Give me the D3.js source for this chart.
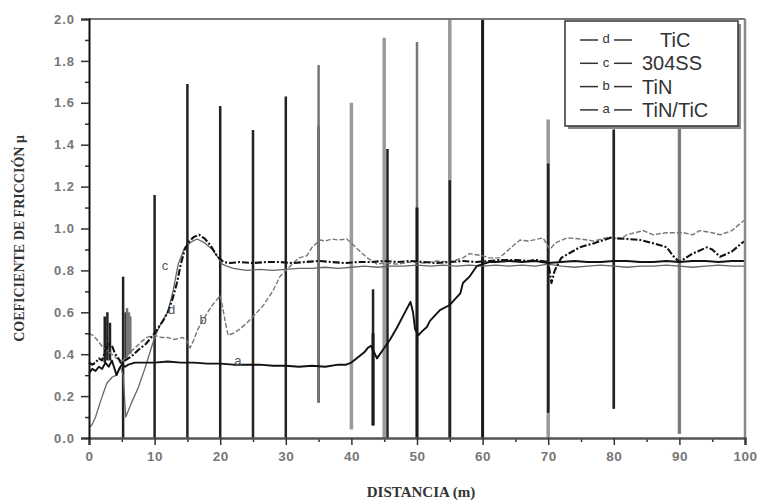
<!DOCTYPE html>
<html>
<head>
<meta charset="utf-8">
<script src="https://cdn.jsdelivr.net/npm/d3@7"></script>
<style>
  html, body { margin: 0; padding: 0; background: #fff; }
  svg { display: block; }
</style>
</head>
<body>
<svg id="chart" width="757" height="502"></svg>
<script>
// ---- data ----
const seriesNames = { d: "TiC", c: "304SS", b: "TiN", a: "TiN/TiC" };
const legendOrder = ["d", "c", "b", "a"];

const aX = [0,0.5,1,1.5,2,2.5,3,3.5,4,4.2,4.6,5,5.5,6,7,8,9,10,12,14,16,18,20,22,24,26,28,30,32,34,36,38,39.2,40,41.2,42,42.5,43,43.3,43.9,45,45.9,47,48,48.5,49,49.4,49.7,50.2,50.8,51.5,52,53.5,55,56.6,57,58,59.1,60,61,62,64,66,68,70,72,74,76,78,80,82,84,86,88,90,92,94,96,98,100];
const aY = [0.31,0.33,0.32,0.34,0.33,0.36,0.34,0.37,0.32,0.3,0.33,0.35,0.34,0.35,0.36,0.36,0.36,0.36,0.365,0.36,0.36,0.355,0.355,0.35,0.35,0.35,0.345,0.345,0.34,0.345,0.34,0.35,0.35,0.36,0.39,0.41,0.43,0.44,0.42,0.38,0.43,0.47,0.53,0.59,0.62,0.65,0.6,0.52,0.49,0.51,0.53,0.56,0.61,0.635,0.69,0.74,0.77,0.82,0.83,0.84,0.84,0.845,0.84,0.845,0.835,0.84,0.845,0.84,0.84,0.845,0.845,0.84,0.84,0.845,0.84,0.845,0.845,0.84,0.845,0.845];

const bX = [0,0.6,1.2,2.2,3,3.5,4.2,5,5.2,6,7,8,8.8,10,11,12,13,14.3,15,15.4,16,16.6,17.5,18.7,19.5,20,20.4,20.8,21.2,22,23,24.1,25,26.5,28,29.1,30,31,32,33.2,34,35.2,36,37,38,39.3,40,41,42.4,43.9,45,47,49,51,53,55,57,58,60,61,62.6,64,65.7,67,69.2,70.3,71,72.9,75,77,79.4,81,82,84.5,86,88,90.6,92,93.1,95,96.2,98,99.5,100];
const bY = [0.5,0.49,0.47,0.43,0.41,0.4,0.38,0.37,0.37,0.4,0.43,0.46,0.48,0.49,0.48,0.48,0.47,0.48,0.46,0.43,0.47,0.52,0.57,0.63,0.66,0.68,0.62,0.55,0.49,0.5,0.52,0.55,0.58,0.63,0.7,0.77,0.8,0.83,0.86,0.87,0.91,0.945,0.94,0.95,0.945,0.95,0.93,0.9,0.86,0.83,0.835,0.83,0.84,0.835,0.845,0.84,0.86,0.88,0.87,0.86,0.86,0.9,0.945,0.94,0.955,0.9,0.93,0.955,0.95,0.94,0.96,0.95,0.97,0.99,0.97,0.98,0.98,0.97,0.99,0.98,0.97,0.99,1.03,1.04];

const cX = [0,0.4,1,1.7,2.7,3.5,4.2,4.8,5.2,5.6,6.5,7.5,8.5,10,11,12,12.8,13.6,14.6,15.8,16.5,17.7,18.8,19.7,20.3,21,22,24,26,28,30,32,34,36,38,40,42,44,46,48,50,52,54,56,58,60,62,64,66,68,70,72,74,76,78,80,82,84,86,88,90,92,94,96,98,100];
const cY = [0.05,0.06,0.1,0.17,0.26,0.29,0.3,0.34,0.3,0.1,0.17,0.24,0.33,0.48,0.55,0.6,0.7,0.83,0.91,0.94,0.95,0.93,0.9,0.86,0.83,0.82,0.81,0.8,0.805,0.8,0.805,0.81,0.81,0.815,0.81,0.815,0.82,0.815,0.82,0.82,0.825,0.82,0.825,0.82,0.825,0.82,0.825,0.82,0.825,0.82,0.83,0.82,0.815,0.82,0.825,0.82,0.815,0.82,0.82,0.825,0.82,0.815,0.82,0.825,0.82,0.82];

const dX = [0,0.5,1,1.5,2,2.5,3,3.5,4,4.5,5,5.5,6,6.5,7.5,8.7,10,11.3,12,12.7,13.4,14,14.6,15.3,16,16.8,17.7,18.5,19.5,20.5,21.5,23,25,27,29,31,33,35,37,39,41,43,45,47,49,51,53,55,57,59,61,63,65,67,68,70,70.5,71,72,74.8,77,79.4,82,84,86,88.1,89,90,91,92,94.2,95,96.2,98,99.5,100];
const dY = [0.36,0.35,0.36,0.38,0.37,0.42,0.45,0.44,0.4,0.38,0.35,0.37,0.38,0.39,0.42,0.45,0.5,0.56,0.6,0.66,0.74,0.83,0.9,0.94,0.96,0.97,0.95,0.92,0.87,0.84,0.835,0.84,0.835,0.84,0.84,0.835,0.84,0.845,0.84,0.835,0.84,0.84,0.845,0.84,0.845,0.84,0.835,0.84,0.845,0.84,0.845,0.85,0.85,0.845,0.85,0.84,0.74,0.8,0.86,0.91,0.93,0.955,0.95,0.945,0.93,0.91,0.87,0.84,0.86,0.88,0.91,0.9,0.865,0.89,0.93,0.94];

// friction spikes at the stops: series, distance, low, high
const spikeSeries = ["d","d","d","d","d","c","c","c","d","d","d","d","d","d","c","d","b","a","b","d","c","a","b","d","a","b","d","c","d","b","c"];
const spikeX  = [2.4,2.8,3.2,5.2,5.6,5.8,6.1,6.3,10,15,20,25,30,35,35,43.3,40,43.3,45,45.5,50,50,55,55,60,70,70,80,80,90,90];
const spikeLo = [0.36,0.37,0.37,0,0.38,0.38,0.4,0.4,0,0,0,0,0,0.17,0.17,0.06,0.04,0.06,0,0,0,0,0,0,0,0,0.12,0.14,0.14,0.02,0.02];
const spikeHi = [0.58,0.6,0.55,0.77,0.6,0.62,0.6,0.58,1.16,1.69,1.585,1.47,1.63,1.49,1.78,0.71,1.6,0.5,1.91,1.38,1.89,1.1,2.0,1.23,2.0,1.52,1.31,1.7,1.47,1.7,1.5];

const yTicks = [0,0.2,0.4,0.6,0.8,1.0,1.2,1.4,1.6,1.8,2.0];
const yMinor = [0.1,0.3,0.5,0.7,0.9,1.1,1.3,1.5,1.7,1.9];
const xTicks = [0,10,20,30,40,50,60,70,80,90,100];
const xMinor = [5,15,25,35,45,55,65,75,85,95];

// ---- chart ----
const svg = d3.select("#chart");
const x = d3.scaleLinear().domain([0, 100]).range([89, 745]);
const y = d3.scaleLinear().domain([0, 2]).range([438, 19]);

const style = {
  a: { stroke: "#111", width: 1.9, dash: null },
  b: { stroke: "#777", width: 1.4, dash: "5,2" },
  c: { stroke: "#666", width: 1.3, dash: null },
  d: { stroke: "#111", width: 2.1, dash: "7,2,2,2" }
};
const spikeStyle = {
  a: { stroke: "#1a1a1a", width: 3 },
  b: { stroke: "#9a9a9a", width: 3.5 },
  c: { stroke: "#777", width: 2.5 },
  d: { stroke: "#222", width: 2.5 }
};

const plot = svg.append("g");

// spikes
plot.selectAll("line.spike")
  .data(spikeX.map((v, i) => ({ x: v, lo: spikeLo[i], hi: spikeHi[i], s: spikeSeries[i] })))
  .join("line")
  .attr("class", "spike")
  .attr("x1", d => x(d.x)).attr("x2", d => x(d.x))
  .attr("y1", d => y(d.lo)).attr("y2", d => y(d.hi))
  .attr("stroke", d => spikeStyle[d.s].stroke)
  .attr("stroke-width", d => spikeStyle[d.s].width);

// curves
const seriesData = {
  a: aX.map((v, i) => [v, aY[i]]),
  b: bX.map((v, i) => [v, bY[i]]),
  c: cX.map((v, i) => [v, cY[i]]),
  d: dX.map((v, i) => [v, dY[i]])
};
const line = d3.line().x(d => x(d[0])).y(d => y(d[1]));
["c", "b", "a", "d"].forEach(k => {
  plot.append("path")
    .attr("d", line(seriesData[k]))
    .attr("fill", "none")
    .attr("stroke", style[k].stroke)
    .attr("stroke-width", style[k].width)
    .attr("stroke-dasharray", style[k].dash)
    .attr("stroke-linejoin", "round");
});

// curve letters
const letterPos = { c: [11.6, 0.82], d: [12.6, 0.61], b: [17.4, 0.56], a: [22.7, 0.365] };
Object.entries(letterPos).forEach(([k, p]) => {
  plot.append("text")
    .attr("x", x(p[0])).attr("y", y(p[1]))
    .attr("text-anchor", "middle").attr("dominant-baseline", "middle")
    .style("font-family", "Arial, Liberation Sans, sans-serif")
    .style("font-size", "13px").style("fill", "#555")
    .text(k);
});

// frame
svg.append("line").attr("x1", x(0)).attr("x2", x(100)).attr("y1", y(2)).attr("y2", y(2))
  .attr("stroke", "#777").attr("stroke-width", 2);
svg.append("line").attr("x1", x(100)).attr("x2", x(100)).attr("y1", y(2)).attr("y2", y(0))
  .attr("stroke", "#888").attr("stroke-width", 2.5);

// axes
const fontAx = "Arial, Liberation Sans, sans-serif";
svg.append("g").attr("transform", `translate(0,${y(0)})`)
  .call(d3.axisBottom(x).tickValues(xMinor).tickSize(4).tickFormat(""))
  .call(ax => { ax.select(".domain").remove(); ax.selectAll(".tick line").attr("stroke", "#333").attr("stroke-width", 1.5); });
svg.append("g").attr("transform", `translate(0,${y(0)})`)
  .call(d3.axisBottom(x).tickValues(xTicks).tickSize(7).tickPadding(6).tickFormat(d3.format("d")))
  .call(ax => {
    ax.select(".domain").attr("stroke", "#555").attr("stroke-width", 2.5);
    ax.selectAll(".tick line").attr("stroke", "#333").attr("stroke-width", 1.5);
    ax.selectAll(".tick text").style("fill", "#777").style("font-size", "13.5px").style("font-weight", "bold")
      .style("font-family", fontAx).style("letter-spacing", "0.5px");
  });

svg.append("g").attr("transform", `translate(${x(0)},0)`)
  .call(d3.axisLeft(y).tickValues(yMinor).tickSize(4).tickFormat(""))
  .call(ax => { ax.select(".domain").remove(); ax.selectAll(".tick line").attr("stroke", "#333").attr("stroke-width", 1.5); });
svg.append("g").attr("transform", `translate(${x(0)},0)`)
  .call(d3.axisLeft(y).tickValues(yTicks).tickSize(8).tickPadding(6).tickFormat(d3.format(".1f")))
  .call(ax => {
    ax.select(".domain").attr("stroke", "#111").attr("stroke-width", 2);
    ax.selectAll(".tick line").attr("stroke", "#333").attr("stroke-width", 1.5);
    ax.selectAll(".tick text").style("fill", "#777").style("font-size", "13px").style("font-weight", "bold")
      .style("font-family", fontAx).style("letter-spacing", "1px");
  });

// axis titles
svg.append("text")
  .attr("transform", `translate(24,${(y(0) + y(2)) / 2 + 10}) rotate(-90)`)
  .attr("text-anchor", "middle")
  .style("font-family", "Liberation Serif, Times New Roman, serif")
  .style("font-size", "14px").style("font-weight", "bold").style("fill", "#333")
  .text("COEFICIENTE DE FRICCIÓN μ");

svg.append("text")
  .attr("x", 421).attr("y", 497)
  .attr("text-anchor", "middle")
  .style("font-family", "Liberation Serif, Times New Roman, serif")
  .style("font-size", "15px").style("font-weight", "bold").style("fill", "#333")
  .text("DISTANCIA (m)");

// legend
const lg = svg.append("g");
lg.append("rect").attr("x", 568).attr("y", 24).attr("width", 173).attr("height", 105).attr("fill", "#888");
lg.append("rect").attr("x", 565).attr("y", 21).attr("width", 173).attr("height", 105)
  .attr("fill", "#fff").attr("stroke", "#333").attr("stroke-width", 1.5);
legendOrder.forEach((k, i) => {
  const ly = 40 + i * 23.3;
  lg.append("line").attr("x1", 580).attr("x2", 598).attr("y1", ly).attr("y2", ly)
    .attr("stroke", "#333").attr("stroke-width", 1.5);
  lg.append("text").attr("x", 606).attr("y", ly).attr("text-anchor", "middle")
    .attr("dominant-baseline", "middle")
    .style("font-family", fontAx).style("font-size", "13px").style("fill", "#333").text(k);
  lg.append("line").attr("x1", 614).attr("x2", 632).attr("y1", ly).attr("y2", ly)
    .attr("stroke", "#333").attr("stroke-width", 1.5);
  lg.append("text").attr("x", k === "d" ? 660 : 642).attr("y", ly + 7)
    .style("font-family", fontAx).style("font-size", "20px").style("fill", "#333")
    .text(seriesNames[k]);
});
</script>
</body>
</html>
